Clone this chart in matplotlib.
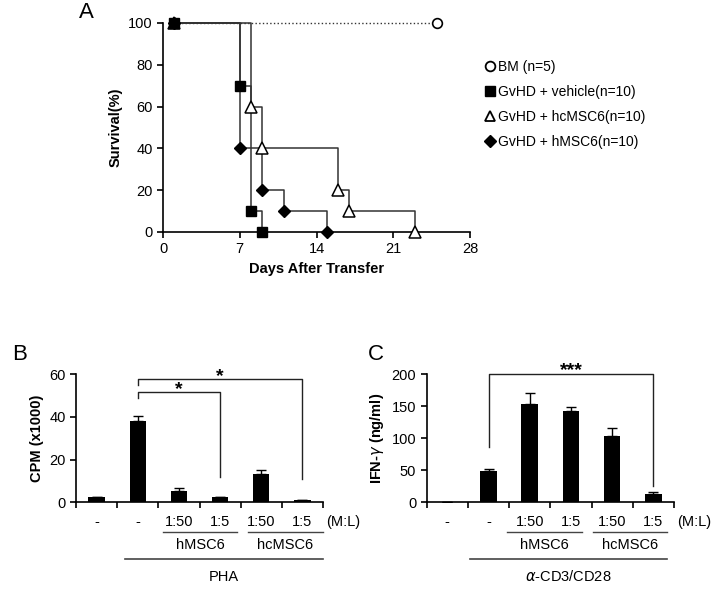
import matplotlib
matplotlib.use('Agg')
import matplotlib.pyplot as plt
from matplotlib.lines import Line2D
import matplotlib.transforms as mtransforms

plt.rcParams['font.family'] = ['Liberation Sans', 'DejaVu Sans']
plt.rcParams['font.size'] = 9

#### DATA ##########

# panel A: survival curves (day, % survival)
bm_days = [1, 25]
bm_surv = [100, 100]
veh_days = [1, 7, 8, 9]
veh_surv = [100, 70, 10, 0]
hc_days = [1, 8, 9, 16, 17, 23]
hc_surv = [100, 60, 40, 20, 10, 0]
hm_days = [1, 7, 9, 11, 15]
hm_surv = [100, 40, 20, 10, 0]
legend_labels = ['BM (n=5)', 'GvHD + vehicle(n=10)',
                 'GvHD + hcMSC6(n=10)', 'GvHD + hMSC6(n=10)']

# panels B and C
cat_labels = ['-', '-', '1:50', '1:5', '1:50', '1:5']
cpm = [2.3, 38.2, 5.4, 2.3, 13.2, 1.0]
cpm_err = [0.3, 2.0, 1.3, 0.3, 1.8, 0.3]
ifn = [0, 49.4, 153, 143, 103.4, 12.5]
ifn_err = [0, 2.0, 17, 5.5, 12, 3.0]

#### PLOT ##########

fig = plt.figure(figsize=(7.17, 5.89), dpi=100)

# ---- panel A
axA = fig.add_axes([163/717, 1-232/589, 307/717, 209/589])
lc = '#333333'
axA.plot(bm_days, bm_surv, linestyle=':', color=lc, lw=1, marker='o',
         mfc='white', mec='black', ms=7, mew=1.2, zorder=2, clip_on=False)
axA.step(veh_days, veh_surv, where='post', color=lc, lw=1.1, zorder=3, clip_on=False)
axA.plot(veh_days, veh_surv, 's', color='black', ms=7, zorder=6, clip_on=False)
axA.step(hc_days, hc_surv, where='post', color=lc, lw=1.1, zorder=3, clip_on=False)
axA.plot(hc_days, hc_surv, '^', mfc='white', mec='black', ms=8, mew=1.1, zorder=5, clip_on=False)
axA.step(hm_days, hm_surv, where='post', color=lc, lw=1.1, zorder=3, clip_on=False)
axA.plot(hm_days, hm_surv, 'D', color='black', ms=6, zorder=5, clip_on=False)

axA.set_xlim(0, 28)
axA.set_ylim(0, 100)
axA.set_xticks([0, 7, 14, 21, 28])
axA.set_yticks([0, 20, 40, 60, 80, 100])
for s in ['top', 'right']:
    axA.spines[s].set_visible(False)
for s in ['left', 'bottom']:
    axA.spines[s].set_linewidth(1.2)
axA.tick_params(direction='out', length=4, width=1.2, labelsize=10.5)
axA.set_ylabel('Survival(%)', fontweight='bold', fontsize=10.5)
axA.set_xlabel('Days After Transfer', fontweight='bold', fontsize=10.5)

handles = [
    Line2D([], [], ls='none', marker='o', mfc='white', mec='black', ms=7, mew=1.3),
    Line2D([], [], ls='none', marker='s', color='black', ms=7),
    Line2D([], [], ls='none', marker='^', mfc='white', mec='black', ms=7.5, mew=1.3),
    Line2D([], [], ls='none', marker='D', color='black', ms=6),
]
fig.legend(handles, legend_labels, loc='upper left', bbox_to_anchor=(479/717, 1-54/589),
           frameon=False, fontsize=10, handlelength=0.8, handletextpad=0.15,
           labelspacing=0.8, borderaxespad=0)

fig.text(79/717, 1-13/589, 'A', fontsize=16, va='center')


def bar_panel(rect, vals, errs, ylim, yticks, ylabel, under, longline, group_text):
    ax = fig.add_axes(rect)
    x = list(range(len(vals)))
    ax.bar(x, vals, width=0.4, color='black', zorder=2)
    ax.errorbar(x, vals, yerr=[[0]*len(errs), errs], fmt='none', ecolor='black',
                elinewidth=1, capsize=3.5, capthick=1, zorder=3)
    ax.set_xlim(-0.5, len(vals)-0.5)
    ax.set_ylim(*ylim)
    ax.set_yticks(yticks)
    ax.set_xticks([i-0.5 for i in range(len(vals)+1)])
    ax.set_xticklabels([])
    for s in ['top', 'right']:
        ax.spines[s].set_visible(False)
    for s in ['left', 'bottom']:
        ax.spines[s].set_linewidth(1.2)
    ax.tick_params(direction='out', length=4, width=1.2, labelsize=10.5)
    ax.set_ylabel(ylabel, fontweight='bold', fontsize=10.5)
    tr = mtransforms.blended_transform_factory(ax.transData, ax.transAxes)
    for i, lab in enumerate(cat_labels):
        ax.text(i, -0.15, lab, transform=tr, ha='center', va='center', fontsize=10.5)
    ax.text(5.57, -0.15, '(M:L)', transform=tr, ha='left', va='center', fontsize=10.5)
    for (a, b), name in zip(under, ['hMSC6', 'hcMSC6']):
        ax.plot([a, b], [-0.234, -0.234], transform=tr, color='#444444', lw=1, clip_on=False)
        ax.text((a+b)/2, -0.335, name, transform=tr, ha='center', va='center', fontsize=10.5)
    ax.plot(longline, [-0.444, -0.444], transform=tr, color='#444444', lw=1.2, clip_on=False)
    ax.text(sum(longline)/2, -0.58, group_text, transform=tr, ha='center', va='center', fontsize=10.5)
    return ax


def bracket(ax, x1, x2, y, yl, yr, stars, dy):
    ax.plot([x1, x1, x2, x2], [yl, y, y, yr], color='#222222', lw=1, clip_on=False, zorder=4)
    ax.text((x1+x2)/2, y+dy, stars, ha='center', va='center', fontsize=14,
            fontweight='bold', clip_on=False)


# ---- panel B
axB = bar_panel([76/717, 1-502.3/589, 247/717, 128.3/589], cpm, cpm_err, (0, 60),
                [0, 20, 40, 60], 'CPM (x1000)', [(1.62, 3.42), (3.68, 5.5)], [0.69, 5.49], 'PHA')
bracket(axB, 1, 5, 57.5, 54.8, 10.9, '*', 1.5)
bracket(axB, 1, 3, 51.4, 48.6, 12, '*', 1.5)
fig.text(12/717, 1-355/589, 'B', fontsize=16, va='center')

# ---- panel C
axC = bar_panel([426.7/717, 1-502.3/589, 247.3/717, 128.3/589], ifn, ifn_err, (0, 200),
                [0, 50, 100, 150, 200], 'IFN-$\\gamma$ (ng/ml)', [(1.44, 3.26), (3.54, 5.33)],
                [0.55, 5.33], '$\\alpha$-CD3/CD28')
bracket(axC, 1, 5, 200, 85.7, 25.5, '***', 5)
fig.text(368/717, 1-355/589, 'C', fontsize=16, va='center')

plt.savefig('out.png', dpi=100)
